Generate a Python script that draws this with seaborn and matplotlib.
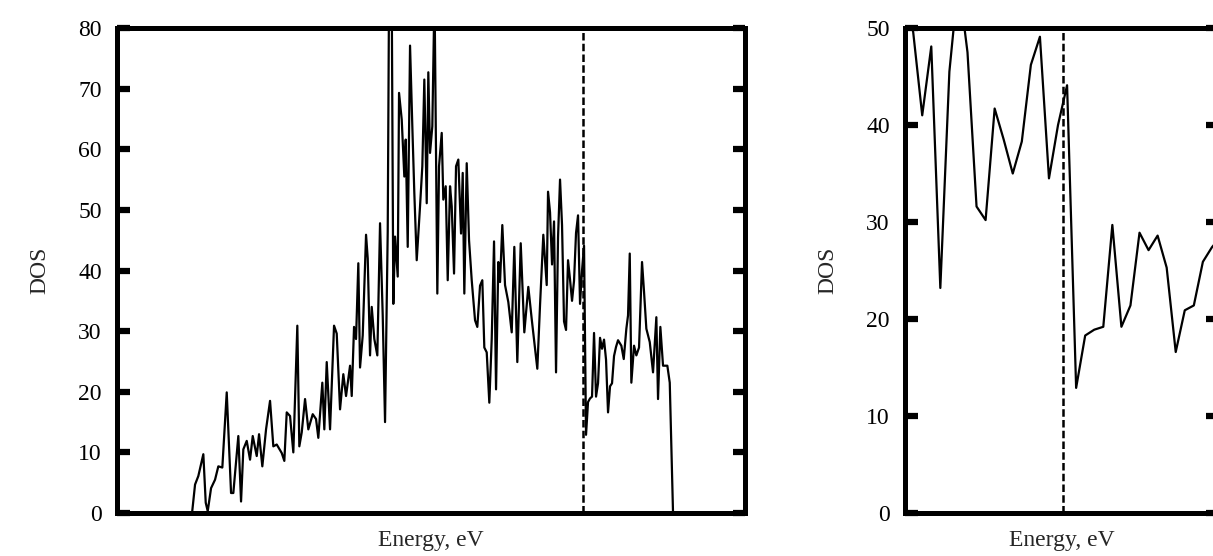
import numpy as np
import pandas as pd
import matplotlib
matplotlib.use("Agg")
import matplotlib.pyplot as plt
import seaborn as sns

# ---- data (energy relative to Fermi level, eV ; DOS) ----
energy_low = [-9.775, -9.7, -9.618, -9.493, -9.433, -9.383, -9.3, -9.2, -9.118, -9.018,
              -8.908, -8.8, -8.743, -8.618, -8.55, -8.493, -8.408, -8.325, -8.258, -8.158,
              -8.1, -8.018, -7.925, -7.825, -7.743, -7.658, -7.533, -7.468, -7.408, -7.325,
              -7.243, -7.143, -7.093, -7.033, -6.95, -6.868, -6.758, -6.675, -6.618, -6.518,
              -6.468, -6.408, -6.325, -6.225, -6.158, -6.075, -5.993, -5.925, -5.825, -5.783,
              -5.725, -5.675, -5.618, -5.575, -5.508, -5.425, -5.383, -5.325, -5.283, -5.218,
              -5.143, -5.075, -5.008, -4.95, -4.883, -4.85, -4.783, -4.743, -4.7, -4.633,
              -4.6, -4.533, -4.468, -4.433, -4.383, -4.325, -4.268, -4.218, -4.158, -4.075,
              -4.018, -3.968, -3.908, -3.868, -3.825, -3.768, -3.713, -3.643, -3.6, -3.533,
              -3.493, -3.433, -3.383, -3.325, -3.283, -3.225, -3.175, -3.118, -3.05, -3.008,
              -2.968, -2.908, -2.85, -2.783, -2.7, -2.643, -2.575, -2.518, -2.468, -2.408,
              -2.343, -2.283, -2.225, -2.175, -2.118, -2.075, -2.018, -1.95, -1.868, -1.783,
              -1.718, -1.643, -1.558, -1.468, -1.368, -1.283, -1.143, -1.075, -0.993, -0.908,
              -0.875]
dos_low = [0.0, 4.7, 6.1, 9.7, 1.7, 0.3, 4.1, 5.5, 7.7, 7.5,
           19.9, 3.3, 3.3, 12.7, 1.9, 10.5, 11.9, 8.8, 12.7, 9.4,
           13.0, 7.7, 13.8, 18.5, 11.0, 11.3, 9.9, 8.6, 16.6, 16.0,
           10.0, 30.9, 11.0, 13.3, 18.8, 13.8, 16.3, 15.5, 12.4, 21.5,
           13.8, 24.9, 13.8, 30.9, 29.6, 17.1, 22.9, 19.3, 24.3, 19.3,
           30.7, 28.7, 41.2, 24.0, 29.3, 45.9, 42.0, 26.0, 34.0, 28.7,
           26.0, 47.8, 32.6, 15.0, 46.4, 86.0, 86.0, 34.5, 45.6, 39.0,
           69.3, 64.9, 55.5, 61.6, 43.9, 77.1, 63.8, 52.8, 41.7, 50.6,
           57.2, 71.5, 51.1, 72.7, 59.4, 63.8, 86.0, 36.2, 57.2, 62.7,
           51.7, 53.9, 38.4, 53.9, 50.6, 39.5, 57.2, 58.3, 46.1, 56.1,
           36.2, 57.7, 45.0, 38.4, 31.8, 30.7, 37.5, 38.4, 27.3, 26.5,
           18.2, 28.7, 44.8, 20.4, 41.4, 38.1, 47.5, 37.6, 34.8, 29.8,
           43.9, 24.9, 44.5, 29.8, 37.3, 32.0, 23.8, 34.3, 45.9, 37.6,
           53.0]

energy_fermi = [-0.825, -0.775, -0.725, -0.675, -0.625, -0.575, -0.525, -0.475, -0.425, -0.375,
                -0.325, -0.275, -0.225, -0.175, -0.125, -0.075, -0.025, 0.025, 0.075, 0.125,
                0.175, 0.225, 0.275, 0.325, 0.375, 0.425, 0.475, 0.525, 0.575, 0.625,
                0.675, 0.725, 0.775, 0.825, 0.875]
dos_fermi = [49.6, 41.0, 48.1, 23.2, 45.5, 55.0, 47.5, 31.6, 30.2, 41.7,
             38.5, 35.0, 38.3, 46.2, 49.1, 34.5, 40.0, 44.1, 12.9, 18.3,
             18.9, 19.2, 29.7, 19.2, 21.4, 28.9, 27.1, 28.6, 25.3, 16.6,
             20.9, 21.4, 25.9, 27.4, 28.5]

energy_high = [0.958, 1.018, 1.083, 1.125, 1.168, 1.208, 1.275, 1.333, 1.4, 1.475,
               1.525, 1.583, 1.668, 1.75, 1.833, 1.875, 1.933, 2.0, 2.108, 2.168, 2.25]
dos_high = [27.6, 25.4, 30.4, 32.6, 42.8, 21.5, 27.6, 26.0, 27.3, 41.4,
            36.5, 30.4, 28.2, 23.2, 32.3, 18.8, 30.7, 24.3, 24.3, 21.5, 0.0]

fermi_level = 0.0
left_yticks = [0, 10, 20, 30, 40, 50, 60, 70, 80]
right_yticks = [0, 10, 20, 30, 40, 50]

df = pd.DataFrame({"Energy": energy_low + energy_fermi + energy_high,
                   "DOS": dos_low + dos_fermi + dos_high})

sns.set_style("white")
plt.rcParams["font.family"] = ["Liberation Serif", "DejaVu Serif"]

fig = plt.figure(figsize=(12.13, 5.56), dpi=100)
ax1 = fig.add_axes([0.0965, 0.0773, 0.5177, 0.8723])
ax2 = fig.add_axes([0.7461, 0.0773, 0.2578, 0.8723])

panels = [(ax1, (-11.65, 4.05), (0, 80), left_yticks),
          (ax2, (-0.87, 0.857), (0, 50), right_yticks)]

for ax, xl, yl, yt in panels:
    sns.lineplot(data=df, x="Energy", y="DOS", ax=ax, color="black",
                 linewidth=1.6, estimator=None, sort=True)
    ax.axvline(fermi_level, color="black", linestyle=(0, (3, 1.3)), linewidth=1.8)
    ax.set_xlim(*xl)
    ax.set_ylim(*yl)
    ax.set_xticks([])
    ax.set_yticks(yt)
    ax.tick_params(axis="y", which="both", direction="in", length=9, width=4.5,
                   left=True, right=True, labelsize=17, pad=11, color="black",
                   labelcolor="black")
    for s in ax.spines.values():
        s.set_visible(True)
        s.set_linewidth(3.6)
        s.set_color("black")
    ax.set_xlabel("Energy, eV", fontsize=17, labelpad=12)
    ax.set_ylabel("DOS", fontsize=17, labelpad=20)

fig.savefig("out.png", dpi=100)
